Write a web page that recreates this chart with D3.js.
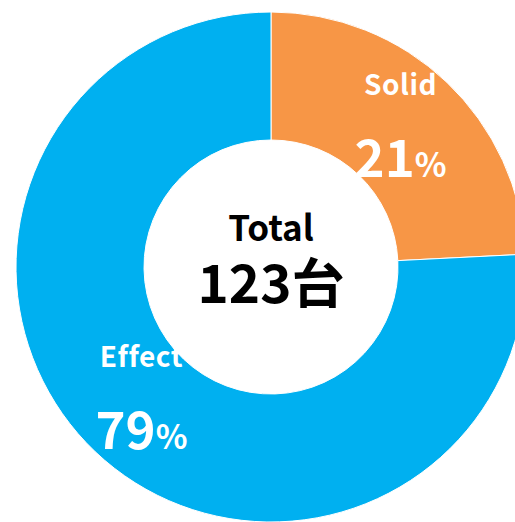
<!DOCTYPE html>
<html>
<head>
<meta charset="utf-8">
<script src="https://cdn.jsdelivr.net/npm/d3@7"></script>
<style>
  body { margin: 0; background: #fff; }
  text { font-family: "Noto Sans CJK JP", "Noto Sans", sans-serif; font-weight: bold; }
</style>
</head>
<body>
<script>
// slice sizes (share of the circle)
const categories = ["Solid", "Effect"];
const shares = [24.2, 75.8];
const pctLabels = ["21", "79"];
const colors = ["#F79646", "#00B0F0"];
const totalLabel = "Total";
const totalValue = "123台";

const w = 515;
const h = 522;
const cx = 271;
const cy = 267;
const outerR = 255;
const innerR = 127;

const svg = d3.select("body")
    .append("svg")
        .attr("width", w)
        .attr("height", h)

const pie = d3.pie().sort(null).value(d => d.v);
const data = pie(categories.map((c, i) => ({ name: c, v: shares[i], pct: pctLabels[i], color: colors[i] })));

const arc = d3.arc().innerRadius(innerR).outerRadius(outerR);
const labelArc = d3.arc().innerRadius(188).outerRadius(188);

const g = svg.append("g")
    .attr("transform", `translate(${cx},${cy})`)

g.selectAll("path")
    .data(data)
    .enter()
    .append("path")
        .attr("d", arc)
        .attr("fill", d => d.data.color)
        .attr("stroke", "#fff")
        .attr("stroke-width", 1)

const labels = g.selectAll("g.lbl")
    .data(data)
    .enter()
    .append("g")
        .attr("class", "lbl")
        .attr("transform", d => {
            const c = labelArc.centroid(d);
            return `translate(${c[0]},${c[1]})`;
        })

labels.append("text")
    .attr("text-anchor", "middle")
    .attr("y", -36)
    .attr("fill", "#fff")
    .style("font-size", "28px")
    .style("letter-spacing", "0.5px")
    .text(d => d.data.name)

const pct = labels.append("text")
    .attr("text-anchor", "middle")
    .attr("y", 46)
    .attr("fill", "#fff")

pct.append("tspan")
    .style("font-size", "51px")
    .text(d => d.data.pct)

pct.append("tspan")
    .style("font-size", "33px")
    .text("%")

// center text, two lines in one text element
const center = g.append("text")
    .attr("text-anchor", "middle")

center.append("tspan")
    .attr("x", 0)
    .attr("y", -26)
    .style("font-size", "35px")
    .text(totalLabel)

center.append("tspan")
    .attr("x", 0)
    .attr("y", 36)
    .style("font-size", "53px")
    .text(totalValue)
</script>
</body>
</html>
